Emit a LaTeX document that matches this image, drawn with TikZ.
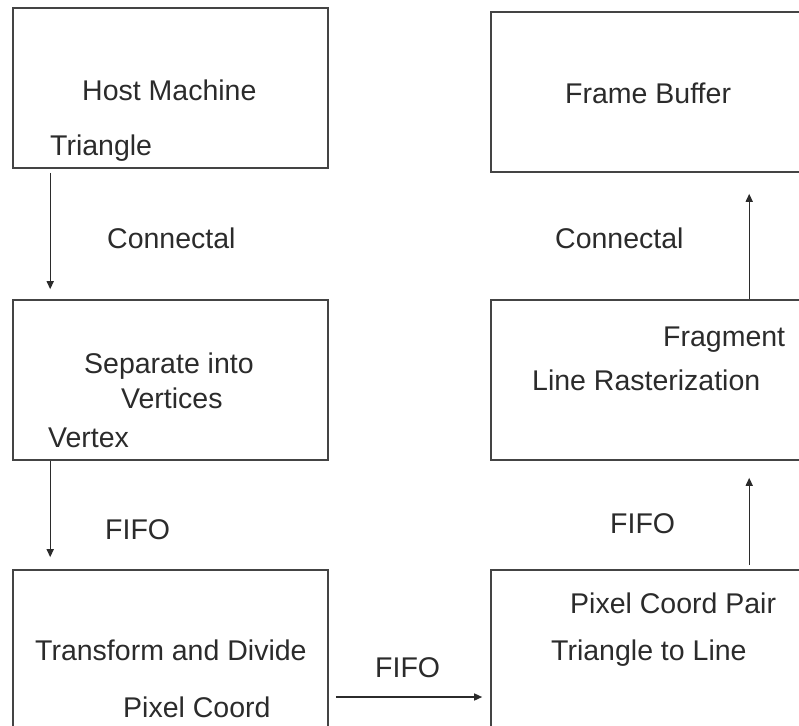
\documentclass[tikz,border=0pt]{standalone}
\usepackage{fontspec}
\setmainfont{Liberation Sans}
\usetikzlibrary{arrows.meta,positioning}
\definecolor{edge}{HTML}{444444}
\definecolor{ink}{HTML}{2B2B2B}

\begin{document}
\begin{tikzpicture}[x=1pt, y=-1pt,
    stage/.style={rectangle, draw=edge, line width=1.6pt, minimum width=315pt, minimum height=160pt, inner sep=0pt},
    lbl/.style={anchor=base west, inner sep=0pt, text=ink, font=\fontsize{28.5}{34}\selectfont},
    flow/.style={-{Triangle[length=8pt,width=7pt]}, line width=1.4pt, draw=ink}]
    \clip (0,0) rectangle (799,725);

    % pipeline stages
    \node[stage] (host) at (170.5,88) {};
    \node[stage] (sep) at (170.5,380) {};
    \node[stage] (xform) at (170.5,650) {};
    \node[stage] (fb) at (648.5,92) {};
    \node[stage] (raster) at (648.5,380) {};
    \node[stage] (tri) at (648.5,650) {};

    % texts
    \node[lbl] (hostname) at (82,100) {Host Machine};
    \node[lbl] (hostout) at (50,155) {Triangle};
    \node[lbl] (linkA) at (107,248) {Connectal};
    \node[lbl] (sepname) at (84,373) {Separate into};
    \node[lbl] (sepname2) at (121,408) {Vertices};
    \node[lbl] (sepout) at (48,447) {Vertex};
    \node[lbl] (fifoA) at (105,539) {FIFO};
    \node[lbl] (xformname) at (35,660) {Transform and Divide};
    \node[lbl] (xformout) at (123,717) {Pixel Coord};
    \node[lbl] (fifoB) at (375,677) {FIFO};
    \node[lbl] (trout) at (570,613) {Pixel Coord Pair};
    \node[lbl] (triname) at (551,660) {Triangle to Line};
    \node[lbl] (fifoC) at (610,533) {FIFO};
    \node[lbl] (rastout) at (663,346) {Fragment};
    \node[lbl] (rastname) at (532,390) {Line Rasterization};
    \node[lbl] (linkB) at (555,248) {Connectal};
    \node[lbl] (fbname) at (565,103) {Frame Buffer};

    % connectors
    \draw[flow] ([xshift=38pt,yshift=-4pt]host.south west) -- ([xshift=38pt,yshift=10pt]sep.north west);
    \draw[flow] ([xshift=38pt]sep.south west) -- ([xshift=38pt,yshift=12pt]xform.north west);
    \draw[flow] ([xshift=7pt,yshift=-47pt]xform.east) -- ([xshift=-8pt,yshift=-47pt]tri.west);
    \draw[flow] ([xshift=259pt,yshift=4pt]tri.north west) -- ([xshift=259pt,yshift=-17pt]raster.south west);
    \draw[flow] ([xshift=259pt]raster.north west) -- ([xshift=259pt,yshift=-21pt]fb.south west);
\end{tikzpicture}
\end{document}
